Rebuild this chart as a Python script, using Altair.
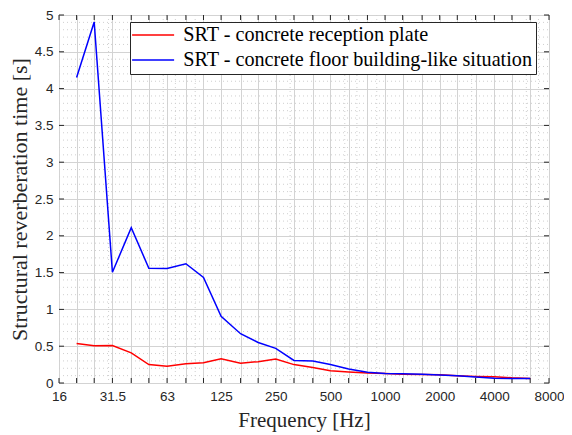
import altair as alt
import pandas as pd

# Third-octave band centre frequencies (Hz)
freqs = [20, 25, 31.5, 40, 50, 63, 80, 100, 125, 160, 200, 250, 315, 400, 500,
         630, 800, 1000, 1250, 1600, 2000, 2500, 3150, 4000, 5000, 6300]

srt_plate = [0.536, 0.505, 0.51, 0.41, 0.25, 0.228, 0.26, 0.275, 0.33, 0.27,
             0.29, 0.325, 0.25, 0.21, 0.165, 0.15, 0.135, 0.13, 0.12, 0.115,
             0.112, 0.10, 0.09, 0.085, 0.07, 0.06]

srt_floor = [4.15, 4.905, 1.504, 2.11, 1.56, 1.555, 1.62, 1.435, 0.905, 0.67,
             0.55, 0.47, 0.307, 0.30, 0.25, 0.19, 0.145, 0.13, 0.125, 0.12,
             0.11, 0.097, 0.08, 0.065, 0.06, 0.06]

series_names = ["SRT - concrete reception plate",
                "SRT - concrete floor building-like situation"]
series_colors = ["#ff0000", "#0000ff"]

x_ticks = [16, 20, 25, 31.5, 40, 50, 63, 80, 100, 125, 160, 200, 250, 315, 400,
           500, 630, 800, 1000, 1250, 1600, 2000, 2500, 3150, 4000, 5000, 6300, 8000]
x_labels = [16, 31.5, 63, 125, 250, 500, 1000, 2000, 4000, 8000]
x_minor = [30, 60, 70, 90, 300, 600, 700, 900, 3000, 6000, 7000]
y_ticks = [0, 0.5, 1, 1.5, 2, 2.5, 3, 3.5, 4, 4.5, 5]
y_minor = [0.1, 0.2, 0.3, 0.4, 0.6, 0.7, 0.8, 0.9, 1.1, 1.2, 1.3, 1.4, 1.6, 1.7, 1.8, 1.9,
           2.1, 2.2, 2.3, 2.4, 2.6, 2.7, 2.8, 2.9, 3.1, 3.2, 3.3, 3.4, 3.6, 3.7, 3.8, 3.9,
           4.1, 4.2, 4.3, 4.4, 4.6, 4.7, 4.8, 4.9]

W, H = 490, 368
TICK = 5
AX = "#262626"
GRID = "#d3d3d3"
MINOR = "#cfcfcf"
SERIF = "Liberation Serif"
SANS = "Liberation Sans"

rows = []
for name, vals in zip(series_names, [srt_plate, srt_floor]):
    for f, v in zip(freqs, vals):
        rows.append({"freq": f, "srt": v, "series": name})
df = pd.DataFrame(rows)

xscale = alt.Scale(type="log", domain=[16, 8000], nice=False)
yscale = alt.Scale(domain=[0, 5], nice=False)

label_cond = " || ".join(f"datum.value == {v}" for v in x_labels)

x_axis = alt.Axis(values=x_ticks, labelExpr=f"({label_cond}) ? '' + datum.value : ''",
                  grid=True, gridColor=GRID, gridWidth=1, ticks=False, tickSize=0, domain=False,
                  labelFont=SANS, labelFontSize=13.5, labelColor=AX, labelPadding=6,
                  labelFlush=False, labelOverlap=False,
                  title="Frequency [Hz]", titleFont=SERIF, titleFontSize=21,
                  titleFontWeight="normal", titleColor=AX, titlePadding=7)
y_axis = alt.Axis(values=y_ticks, labelExpr="'' + datum.value", grid=True, gridColor=GRID,
                  gridWidth=1, ticks=False, tickSize=0, domain=False, labelOverlap=False,
                  labelFont=SANS, labelFontSize=13.5, labelColor=AX, labelPadding=6,
                  title="Structural reverberation time [s]", titleFont=SERIF,
                  titleFontSize=22, titleFontWeight="normal", titleColor=AX, titlePadding=3)

X = lambda f: alt.X(f, scale=xscale, axis=x_axis)
Y = lambda f: alt.Y(f, scale=yscale, axis=y_axis)

lines = alt.Chart(df).mark_line(strokeWidth=1.5).encode(
    x=X("freq:Q"),
    y=Y("srt:Q"),
    color=alt.Color("series:N", scale=alt.Scale(domain=series_names, range=series_colors),
                    legend=alt.Legend(title=None, orient="none", legendX=71, legendY=7,
                                      fillColor="white", strokeColor=AX, padding=3,
                                      symbolType="M-5,0H5", symbolStrokeWidth=1.5,
                                      symbolSize=70.6, symbolOffset=10,
                                      labelFont=SERIF,
                                      labelFontSize=20.2, labelColor="black",
                                      labelOffset=20, rowPadding=4, labelLimit=600)),
    order=alt.Order("freq:Q"),
)

minor_x = alt.Chart(pd.DataFrame({"freq": x_minor})).mark_rule(
    color=MINOR, strokeWidth=1, strokeDash=[1, 3]).encode(
    x=X("freq:Q"), y=alt.value(0), y2=alt.value(H))
minor_y = alt.Chart(pd.DataFrame({"srt": y_minor})).mark_rule(
    color=MINOR, strokeWidth=1, strokeDash=[1, 3]).encode(
    y=Y("srt:Q"), x=alt.value(0), x2=alt.value(W))

xt = pd.DataFrame({"freq": x_ticks})
yt = pd.DataFrame({"srt": y_ticks})
tick_b = alt.Chart(xt).mark_rule(color=AX, strokeWidth=1).encode(
    x=X("freq:Q"), y=alt.value(H), y2=alt.value(H - TICK))
tick_t = alt.Chart(xt).mark_rule(color=AX, strokeWidth=1).encode(
    x=X("freq:Q"), y=alt.value(0), y2=alt.value(TICK))
tick_l = alt.Chart(yt).mark_rule(color=AX, strokeWidth=1).encode(
    y=Y("srt:Q"), x=alt.value(0), x2=alt.value(TICK))
tick_r = alt.Chart(yt).mark_rule(color=AX, strokeWidth=1).encode(
    y=Y("srt:Q"), x=alt.value(W), x2=alt.value(W - TICK))

chart = alt.layer(minor_x, minor_y, tick_b, tick_t, tick_l, tick_r, lines).properties(
    width=W, height=H,
    autosize=alt.AutoSizeParams(type="none"),
    padding={"left": 51, "top": 7, "right": 15, "bottom": 52},
).configure_view(stroke=AX, strokeWidth=1).configure_axis(
    titleFont=SERIF, labelFont=SANS
).configure(background="white")

chart.save("out.html", embed_options={"renderer": "svg", "actions": False})
